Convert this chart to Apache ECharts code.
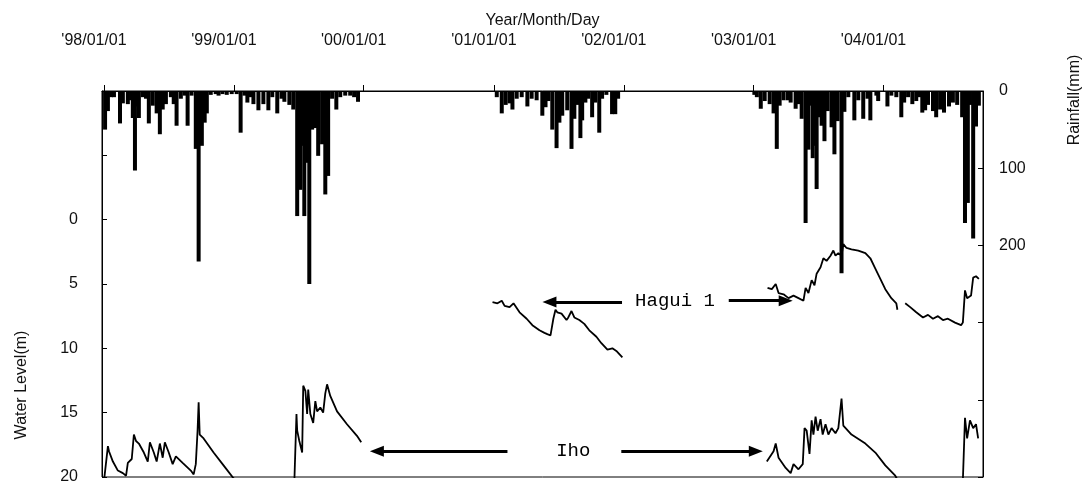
<!DOCTYPE html>
<html>
<head>
<meta charset="utf-8">
<script src="https://cdn.jsdelivr.net/npm/echarts@6/dist/echarts.min.js"></script>
<style>
  html, body { margin: 0; padding: 0; background: #fff; }
  #chart { width: 1092px; height: 487px; }
</style>
</head>
<body>
<div id="chart"></div>
<script>
// Daily rainfall events (mm)
const rainDates = [
  '1998-01-04','1998-01-12','1998-01-21','1998-01-29','1998-02-15','1998-02-23','1998-03-09','1998-03-18','1998-03-23','1998-03-29',
  '1998-04-03','1998-04-09','1998-04-20','1998-04-29','1998-05-07','1998-05-18','1998-05-29','1998-06-07','1998-06-15','1998-06-24',
  '1998-07-08','1998-07-16','1998-07-24','1998-08-05','1998-08-16','1998-08-24','1998-09-04','1998-09-16','1998-09-24','1998-10-03',
  '1998-10-11','1998-10-17','1998-10-28','1998-11-11','1998-11-19','1998-11-30','1998-12-12','1998-12-26',
  '1999-01-09','1999-01-20','1999-01-31','1999-02-08','1999-02-17','1999-02-25','1999-03-11','1999-03-25','1999-04-08','1999-04-19',
  '1999-05-03','1999-05-15','1999-05-23','1999-06-06','1999-06-17','1999-06-28','1999-07-07','1999-07-12','1999-07-18','1999-07-24',
  '1999-08-01','1999-08-09','1999-08-18','1999-08-26','1999-09-06','1999-09-15','1999-09-23','1999-10-04','1999-10-16','1999-10-27',
  '1999-11-10','1999-11-24','1999-12-05','1999-12-16',
  '2001-01-09','2001-01-23','2001-02-03','2001-02-14','2001-02-22','2001-03-06','2001-03-20','2001-04-05','2001-04-17','2001-05-01',
  '2001-05-17','2001-05-26','2001-06-03','2001-06-14','2001-06-26','2001-07-04','2001-07-12','2001-07-26','2001-08-07','2001-08-15',
  '2001-08-23','2001-09-01','2001-09-06','2001-09-15','2001-09-23','2001-10-04','2001-10-13','2001-10-24','2001-11-01','2001-11-13',
  '2001-11-29','2001-12-08','2001-12-16',
  '2003-01-03','2003-01-10','2003-01-21','2003-02-01','2003-02-15','2003-02-26','2003-03-07','2003-03-15','2003-03-26','2003-04-07',
  '2003-04-15','2003-04-29','2003-05-07','2003-05-16','2003-05-27','2003-06-04','2003-06-10','2003-06-16','2003-06-21','2003-06-27',
  '2003-07-02','2003-07-11','2003-07-19','2003-07-28','2003-08-08','2003-08-16','2003-08-25','2003-09-05','2003-09-13','2003-09-24',
  '2003-10-11','2003-10-22','2003-11-05','2003-11-17','2003-11-25','2003-12-12','2003-12-17',
  '2004-01-12','2004-01-23','2004-02-06','2004-02-20','2004-02-28','2004-03-10','2004-03-22','2004-04-02','2004-04-10','2004-04-19',
  '2004-04-27','2004-05-05','2004-05-19','2004-05-28','2004-06-08','2004-06-19','2004-07-03','2004-07-14','2004-07-26','2004-08-09',
  '2004-08-17','2004-08-25','2004-08-31','2004-09-09','2004-09-17','2004-09-25'
];
const rainMm = [
  50,26,8,8,42,16,17,12,35,103,
  20,35,8,10,42,19,29,56,24,17,
  8,17,45,10,6,45,6,75,221,71,
  41,29,5,4,6,4,5,4,
  4,54,6,15,8,17,25,17,25,8,
  29,10,14,18,24,162,128,71,162,93,
  250,50,48,84,69,134,110,10,24,8,
  6,6,8,14,
  8,29,18,16,24,10,8,20,10,12,
  32,21,13,50,74,41,32,25,75,36,
  18,61,38,15,10,34,15,54,10,5,
  30,30,10,
  5,8,23,13,17,29,75,19,12,12,
  15,23,17,36,171,76,19,87,71,127,
  34,45,65,26,47,82,39,236,27,8,
  38,12,36,10,38,6,13,
  20,6,8,34,15,8,17,13,8,28,
  25,18,26,34,24,28,20,15,18,34,
  171,145,18,191,46,19
];

// Iho well water level (m below ground); null marks a break in the record
const ihoDates = [
  '1998-01-01','1998-01-12','1998-01-15','1998-01-26','1998-02-09','1998-02-23','1998-03-04','1998-03-09','1998-03-20','1998-03-26',
  '1998-04-01','1998-04-09','1998-04-23','1998-05-04','1998-05-10','1998-05-21','1998-05-29','1998-06-07','1998-06-15','1998-06-21',
  '1998-07-02','1998-07-13','1998-07-22','1998-08-10','1998-09-02','1998-09-10','1998-09-16','1998-09-21','1998-09-24','1998-09-27',
  '1998-10-08','1998-11-05','1998-12-03','1998-12-31','1999-01-20','1999-03-01',
  '1999-06-20','1999-06-26','1999-06-28','1999-07-04','1999-07-12','1999-07-15','1999-07-21','1999-07-26','1999-07-29','1999-08-04',
  '1999-08-12','1999-08-18','1999-08-23','1999-09-01','1999-09-09','1999-09-15','1999-09-20','1999-09-29','1999-10-18','1999-11-15',
  '1999-12-13','1999-12-25','2000-06-01',
  '2003-02-07','2003-02-26','2003-03-04','2003-03-12','2003-04-01','2003-04-15','2003-04-23','2003-05-07','2003-05-19','2003-05-24',
  '2003-05-30','2003-06-07','2003-06-13','2003-06-18','2003-06-24','2003-06-30','2003-07-08','2003-07-14','2003-07-22','2003-07-30',
  '2003-08-08','2003-08-19','2003-08-27','2003-09-05','2003-09-10','2003-10-03','2003-11-11','2003-12-09','2004-01-06','2004-02-03',
  '2004-02-11','2004-05-01',
  '2004-08-11','2004-08-17','2004-08-23','2004-08-31','2004-09-09','2004-09-17','2004-09-23'
];
const ihoLevel = [
  20.3,17.6,18.0,18.8,19.5,19.7,19.9,18.9,18.6,16.7,
  17.2,17.4,18.1,18.8,17.3,18.1,18.8,17.4,18.5,17.3,
  18.1,19.0,18.4,18.9,19.5,19.8,19.0,16.4,14.2,16.7,
  17.0,18.1,19.1,20.1,20.6,null,
  20.4,15.1,16.4,17.2,18.1,12.9,13.3,15.1,13.2,15.1,
  15.8,14.1,14.9,14.6,15.0,13.5,12.8,13.7,14.9,15.9,
  16.8,17.3,null,
  18.8,18.0,17.4,18.5,19.3,19.7,19.0,19.4,19.0,16.2,
  16.4,18.2,15.6,16.7,15.3,16.4,15.5,16.7,15.9,16.7,
  16.2,16.6,16.2,13.9,16.0,16.7,17.4,18.1,19.1,19.9,
  20.3,null,
  20.3,15.4,17.0,15.6,16.2,15.9,17.0
];

// Hagui 1 well water level (m below ground)
const haguiDates = [
  '2000-12-28','2001-01-11','2001-01-23','2001-01-31','2001-02-14','2001-02-25','2001-03-14','2001-04-03','2001-04-19','2001-05-09',
  '2001-05-23','2001-05-31','2001-06-09','2001-06-12','2001-06-17','2001-06-23','2001-06-28','2001-07-10','2001-07-24','2001-07-29',
  '2001-08-07','2001-08-15','2001-08-29','2001-09-12','2001-09-26','2001-10-16','2001-10-30','2001-11-16','2001-11-30','2001-12-11',
  '2001-12-28','2002-06-01',
  '2003-02-09','2003-02-21','2003-03-04','2003-03-12','2003-03-26','2003-04-09','2003-04-23','2003-05-07','2003-05-21','2003-05-27',
  '2003-06-04','2003-06-13','2003-06-21','2003-06-27','2003-07-08','2003-07-16','2003-07-25','2003-08-05','2003-08-13','2003-08-19',
  '2003-08-27','2003-09-05','2003-09-10','2003-09-19','2003-10-03','2003-10-22','2003-11-11','2003-11-25','2003-12-09','2003-12-23',
  '2004-01-06','2004-01-23','2004-02-06','2004-02-09','2004-02-20',
  '2004-03-02','2004-03-16','2004-04-02','2004-04-21','2004-05-05','2004-05-19','2004-06-02','2004-06-16','2004-06-30','2004-07-20',
  '2004-08-06','2004-08-11','2004-08-17','2004-08-23','2004-09-03','2004-09-09','2004-09-17','2004-09-25'
];
const haguiLevel = [
  6.4,6.5,6.3,6.7,6.8,6.5,7.2,7.7,8.2,8.6,
  8.8,8.9,9.0,8.5,7.7,7.0,7.2,7.3,7.8,7.6,
  7.1,7.6,7.8,8.1,8.6,9.1,9.6,10.1,10.0,10.2,
  10.7,null,
  5.3,5.4,5.0,5.7,5.8,6.1,5.9,6.1,6.3,5.3,
  5.7,4.7,5.1,4.2,3.7,3.0,3.2,2.8,2.4,2.8,
  2.6,2.8,1.9,2.2,2.3,2.4,2.6,3.0,3.8,4.6,
  5.4,6.1,6.5,7.0,null,
  6.5,6.8,7.2,7.6,7.4,7.7,7.5,7.8,7.7,8.0,
  8.2,8.0,5.5,6.1,5.9,4.5,4.4,4.6
];

const levelTicks = [0, 5, 10, 15, 20];
const rainTicks = [0, 100, 200];

const ts = s => echarts.time.parse(s).getTime();
const pairs = (dates, vals) => dates.map((d, i) => [d, vals[i]]);

const chart = echarts.init(document.getElementById('chart'), null, { renderer: 'canvas' });
const font = 'Liberation Sans';
const ink = '#111';

const arrowLine = {
  silent: true,
  symbol: ['none', 'triangle'],
  symbolSize: [11, 14],
  lineStyle: { color: '#000', width: 3, type: 'solid' },
  itemStyle: { color: '#000' },
  label: { show: false },
  emphasis: { disabled: true },
  animation: false
};
const tag = (text, date, level) => ({
  coord: [ts(date), level],
  symbol: 'rect', symbolSize: 1,
  itemStyle: { color: 'rgba(0,0,0,0)' },
  label: { show: true, position: 'inside', formatter: text, color: '#000',
           fontFamily: 'Liberation Mono', fontSize: 19 }
});

chart.setOption({
  animation: false,
  grid: { left: 102, right: 109, top: 91, bottom: 10, show: true,
          borderColor: '#000', borderWidth: 1, containLabel: false },
  xAxis: {
    type: 'time', position: 'top',
    min: '1998-01-01', max: '2004-10-01',
    minInterval: 365 * 86400000, maxInterval: 366 * 86400000,
    name: 'Year/Month/Day', nameLocation: 'middle', nameGap: 62,
    nameTextStyle: { fontFamily: font, fontSize: 16, color: ink },
    axisLine: { show: true, onZero: false, lineStyle: { color: '#000', width: 1 } },
    axisTick: { show: true, inside: false, length: 6, lineStyle: { color: '#000' } },
    splitLine: { show: false },
    axisLabel: {
      margin: 42, fontFamily: font, fontSize: 16, color: ink, padding: [0, 20, 0, 0],
      formatter: v => {
        const d = new Date(v);
        const p = n => String(n).padStart(2, '0');
        return "'" + String(d.getFullYear()).slice(2) + '/' + p(d.getMonth() + 1) + '/' + p(d.getDate());
      }
    }
  },
  yAxis: [
    {
      type: 'value', position: 'left', inverse: true,
      min: -10, max: 20, interval: 5,
      axisLine: { show: true, onZero: false, lineStyle: { color: '#000' } },
      axisTick: { show: true, inside: true, length: 5, lineStyle: { color: '#000' } },
      splitLine: { show: false },
      axisLabel: { margin: 24, fontFamily: font, fontSize: 16, color: ink,
                   formatter: v => levelTicks.includes(v) ? String(v) : '' }
    },
    {
      type: 'value', position: 'right', inverse: true,
      min: 0, max: 500, interval: 100,
      axisLine: { show: true, onZero: false, lineStyle: { color: '#000' } },
      axisTick: { show: true, inside: true, length: 5, lineStyle: { color: '#000' } },
      splitLine: { show: false },
      axisLabel: { margin: 16, fontFamily: font, fontSize: 16, color: ink,
                   formatter: v => rainTicks.includes(v) ? String(v) : '' }
    }
  ],
  series: [
    {
      name: 'Rainfall', type: 'bar', yAxisIndex: 1,
      data: pairs(rainDates, rainMm),
      barWidth: 4, itemStyle: { color: '#000' }, silent: true
    },
    {
      name: 'Iho', type: 'line', yAxisIndex: 0,
      data: pairs(ihoDates, ihoLevel),
      showSymbol: false, connectNulls: false,
      lineStyle: { color: '#000', width: 1.8 }, silent: true,
      markLine: Object.assign({}, arrowLine, {
        data: [
          [{ coord: [ts('2001-02-08'), 18.0] }, { coord: [ts('2000-02-07'), 18.0] }],
          [{ coord: [ts('2001-12-25'), 18.0] }, { coord: [ts('2003-01-07'), 18.0] }]
        ]
      }),
      markPoint: { silent: true, animation: false, data: [tag('Iho', '2001-08-12', 18.0)] }
    },
    {
      name: 'Hagui 1', type: 'line', yAxisIndex: 0,
      data: pairs(haguiDates, haguiLevel),
      showSymbol: false, connectNulls: false,
      lineStyle: { color: '#000', width: 1.8 }, silent: true,
      markLine: Object.assign({}, arrowLine, {
        data: [
          [{ coord: [ts('2001-12-27'), 6.4] }, { coord: [ts('2001-06-06'), 6.4] }],
          [{ coord: [ts('2002-10-23'), 6.3] }, { coord: [ts('2003-04-01'), 6.3] }]
        ]
      }),
      markPoint: { silent: true, animation: false, data: [tag('Hagui 1', '2002-05-25', 6.3)] }
    }
  ],
  graphic: [
    { type: 'text', x: 22, y: 385, rotation: Math.PI / 2, silent: true,
      style: { text: 'Water Level(m)', fontFamily: font, fontSize: 16, fill: ink,
               textAlign: 'center', textVerticalAlign: 'middle' } },
    { type: 'text', x: 1075, y: 100, rotation: Math.PI / 2, silent: true,
      style: { text: 'Rainfall(mm)', fontFamily: font, fontSize: 16, fill: ink,
               textAlign: 'center', textVerticalAlign: 'middle' } }
  ]
});
</script>
</body>
</html>
